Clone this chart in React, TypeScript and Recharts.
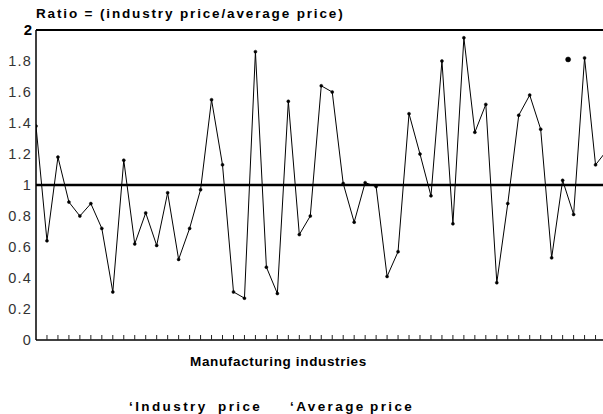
import React from "react";
import { ComposedChart, Line, XAxis, YAxis, ReferenceLine } from "recharts";

const industryIndex = [
  0, 1, 2, 3, 4, 5, 6, 7, 8, 9, 10, 11, 12, 13, 14, 15, 16, 17, 18, 19, 20,
  21, 22, 23, 24, 25, 26, 27, 28, 29, 30, 31, 32, 33, 34, 35, 36, 37, 38, 39,
  40, 41, 42, 43, 44, 45, 46, 47, 48, 49, 50, 51, 52,
];
const priceRatio = [
  1.38, 0.64, 1.18, 0.89, 0.8, 0.88, 0.72, 0.31, 1.16, 0.62, 0.82, 0.61, 0.95,
  0.52, 0.72, 0.97, 1.55, 1.13, 0.31, 0.27, 1.86, 0.47, 0.3, 1.54, 0.68, 0.8,
  1.64, 1.6, 1.01, 0.76, 1.015, 0.99, 0.41, 0.57, 1.46, 1.2, 0.93, 1.8, 0.75,
  1.95, 1.34, 1.52, 0.37, 0.88, 1.45, 1.58, 1.36, 0.53, 1.03, 0.81, 1.82,
  1.13, 1.22,
];
const strayPointIndex = [48.5];
const strayPointValue = [1.81];
const yTicks = [0, 0.2, 0.4, 0.6, 0.8, 1, 1.2, 1.4, 1.6, 1.8, 2];
const xTicks = industryIndex.slice(1, 52);

const data = industryIndex.map((i, k) => ({ i, ratio: priceRatio[k] }));
const strayData = strayPointIndex.map((i, k) => ({ i, ratio: strayPointValue[k] }));

const YTick = (props: any) => {
  const { y, payload } = props;
  const v = payload.value;
  const isTop = v === 2;
  return (
    <text
      x={32}
      y={y}
      dy="0.36em"
      textAnchor="end"
      fontFamily="'Liberation Sans', Arial, sans-serif"
      fontSize={isTop ? 15 : 14.5}
      fontWeight={isTop ? 700 : 400}
      letterSpacing={isTop ? 0 : 1.2}
      fill={isTop ? "#000" : "#333"}
    >
      {String(Math.round(v * 10) / 10)}
    </text>
  );
};

const XTick = (props: any) => {
  const { x, y } = props;
  return <line x1={x} x2={x} y1={y} y2={y - 5} stroke="#222" strokeWidth={1} />;
};

const textBase: React.CSSProperties = {
  position: "absolute",
  fontFamily: "'Liberation Sans', Arial, sans-serif",
  fontWeight: 700,
  color: "#000",
  whiteSpace: "pre",
  lineHeight: 1,
};

export default function App() {
  return (
    <div style={{ position: "absolute", left: 0, top: 0, width: 603, height: 414, background: "#fff" }}>
      <ComposedChart
        width={603}
        height={414}
        data={data}
        margin={{ top: 30, right: 0, left: 0, bottom: 44 }}
      >
        <XAxis
          type="number"
          dataKey="i"
          domain={[0, 51.68]}
          allowDataOverflow
          ticks={xTicks}
          interval={0}
          height={30}
          tick={<XTick />}
          tickSize={0}
          tickMargin={0}
          tickLine={false}
          axisLine={{ stroke: "#000", strokeWidth: 1.5 }}
        />
        <YAxis
          type="number"
          domain={[0, 2]}
          ticks={yTicks}
          width={36}
          tickLine={false}
          axisLine={{ stroke: "#000", strokeWidth: 1.5 }}
          tick={<YTick />}
          interval={0}
        />
        <ReferenceLine y={2} stroke="#000" strokeWidth={1.8} />
        <ReferenceLine y={1} stroke="#000" strokeWidth={2.5} />
        <Line
          dataKey="ratio"
          stroke="#000"
          strokeWidth={1}
          dot={{ r: 1.5, fill: "#000", stroke: "#000", strokeWidth: 0.5 }}
          isAnimationActive={false}
        />
        <Line
          data={strayData}
          dataKey="ratio"
          stroke="none"
          dot={{ r: 2.5, fill: "#000", stroke: "#000", strokeWidth: 0.5 }}
          isAnimationActive={false}
        />
      </ComposedChart>
      <div style={{ ...textBase, left: 36, top: 7, fontSize: 13.5, letterSpacing: 1.85 }}>
        Ratio = (industry price/average price)
      </div>
      <div style={{ ...textBase, left: 190, top: 355, fontSize: 13.5, letterSpacing: 0.65 }}>
        Manufacturing industries
      </div>
      <div style={{ ...textBase, left: 129, top: 400, fontSize: 13.5, letterSpacing: 2.4 }}>‘Industry</div>
      <div style={{ ...textBase, left: 218, top: 400, fontSize: 13.5, letterSpacing: 2.4 }}>price</div>
      <div style={{ ...textBase, left: 290, top: 400, fontSize: 13.5, letterSpacing: 2.4 }}>‘Average</div>
      <div style={{ ...textBase, left: 370, top: 400, fontSize: 13.5, letterSpacing: 2.4 }}>price</div>
    </div>
  );
}
